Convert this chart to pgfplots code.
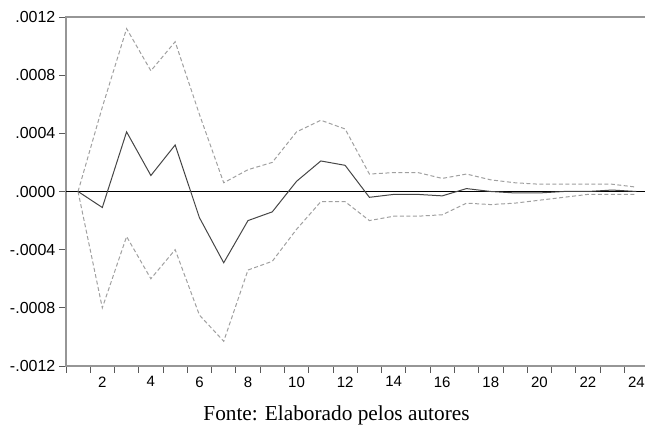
\documentclass[border=0pt]{standalone}
\usepackage{fontspec}
\setmainfont{Liberation Serif}
\newfontfamily\arialfont{Liberation Sans}
\usepackage{pgfplots}
\pgfplotsset{compat=1.18}
\usepackage{pgfplotstable}

% impulse response with +/- 2 s.e. bands
\pgfplotstableread{
per resp lo hi
1 0 0 0
2 -0.00011 -0.00080 0.00058
3 0.00041 -0.00031 0.00112
4 0.00011 -0.00060 0.00083
5 0.00032 -0.00040 0.00103
6 -0.00018 -0.00085 0.00053
7 -0.00049 -0.00103 0.00006
8 -0.00020 -0.00054 0.00015
9 -0.00014 -0.00048 0.00020
10 0.00007 -0.00026 0.00041
11 0.00021 -0.00007 0.00049
12 0.00018 -0.00007 0.00043
13 -0.00004 -0.00020 0.00012
14 -0.00002 -0.00017 0.00013
15 -0.00002 -0.00017 0.00013
16 -0.00003 -0.00016 0.00009
17 0.00002 -0.00008 0.00012
18 0.00000 -0.00009 0.00008
19 -0.00001 -0.00008 0.00006
20 -0.00001 -0.00006 0.00005
21 0.00000 -0.00004 0.00005
22 0.00000 -0.00002 0.00005
23 0.00001 -0.00002 0.00005
24 0.00000 -0.00002 0.00003
}\irf

\definecolor{framegray}{RGB}{150,150,150}
\definecolor{respgray}{RGB}{70,70,70}
\definecolor{bandgray}{RGB}{160,160,160}

\begin{document}
\begin{tikzpicture}
\begin{axis}[
    scale only axis,
    width=582.7pt, height=349pt,
    at={(65.9pt,59pt)}, anchor=south west,
    xmin=0.5, xmax=24.5,
    ymin=-0.0012, ymax=0.0012,
    xtick={0.5,1.5,...,24.5}, xticklabels={},
    extra x ticks={2,4,...,24},
    extra x tick labels={2,4,6,8,10,12,14,16,18,20,22,24},
    extra x tick style={grid=none, major tick length=0pt, xticklabel style={yshift=-7pt}},
    ytick={-0.0012,-0.0008,-0.0004,0,0.0004,0.0008,0.0012},
    yticklabels={-.0012,-.0008,-.0004,.0000,.0004,.0008,.0012},
    scaled y ticks=false,
    tick align=outside,
    xtick pos=bottom, ytick pos=left,
    major tick length=7pt,
    tick style={color=black!65, line width=0.8pt},
    axis line style={color=framegray, line width=1.4pt},
    x tick label style={font=\arialfont\fontsize{15}{15}\selectfont},
    y tick label style={font=\arialfont\fontsize{16}{16}\selectfont},
]
\addplot[black, line width=1.1pt] coordinates {(0.5,0) (24.5,0)};
\addplot[bandgray, line width=1pt, dash pattern=on 4pt off 2.5pt] table[x=per, y=hi] {\irf};
\addplot[bandgray, line width=1pt, dash pattern=on 4pt off 2.5pt] table[x=per, y=lo] {\irf};
\addplot[respgray, line width=1pt] table[x=per, y=resp] {\irf};
\end{axis}
\node[anchor=base, font=\fontsize{21.3}{24}\selectfont] at (336.5pt,4pt) {Fonte: Elaborado pelos autores};
\pgfresetboundingbox
\path[use as bounding box] (0pt,0pt) rectangle (645pt,425pt);
\end{tikzpicture}
\end{document}
